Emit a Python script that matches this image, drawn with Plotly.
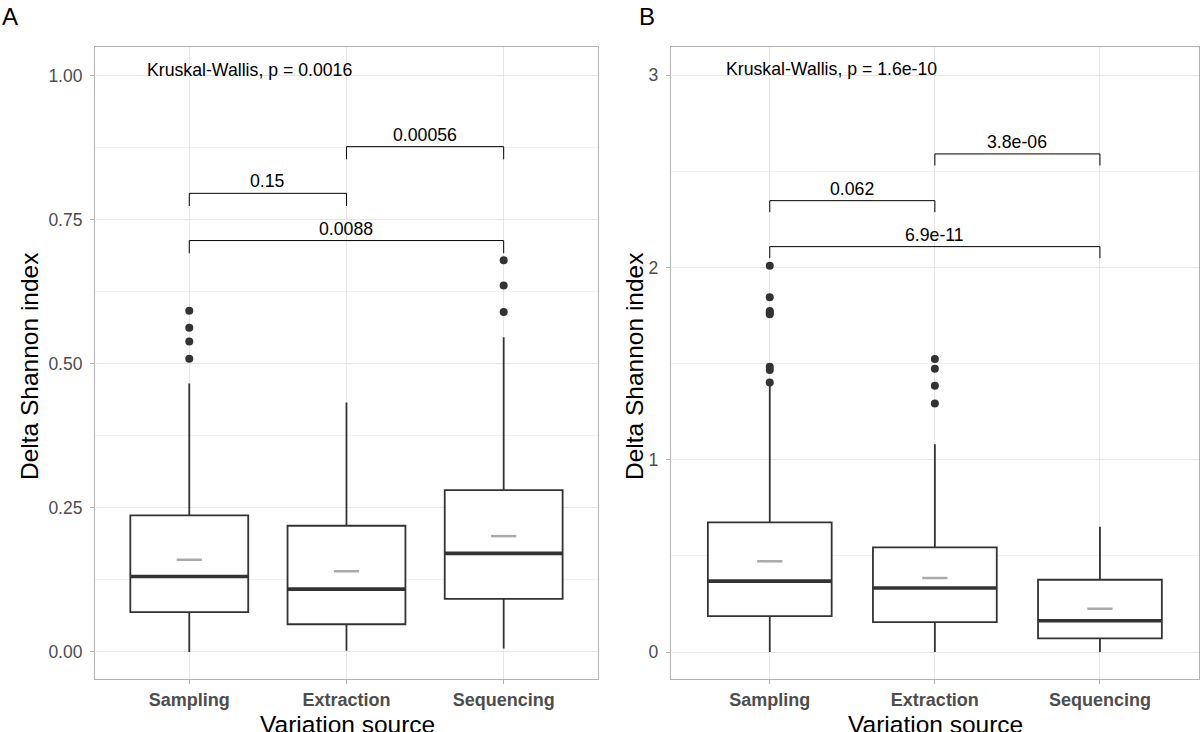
import plotly.graph_objects as go
from plotly.subplots import make_subplots

# categories
sources = ["Sampling", "Extraction", "Sequencing"]

# panel A box statistics
a_q1 = [0.069, 0.048, 0.092]
a_med = [0.131, 0.109, 0.171]
a_q3 = [0.237, 0.219, 0.281]
a_lo = [0.0, 0.002, 0.006]
a_hi = [0.466, 0.433, 0.546]
a_mean = [0.160, 0.140, 0.201]
a_out = [[0.509, 0.539, 0.5625, 0.592], [], [0.590, 0.636, 0.680]]

# panel B box statistics
b_q1 = [0.187, 0.156, 0.071]
b_med = [0.369, 0.333, 0.163]
b_q3 = [0.674, 0.544, 0.376]
b_lo = [0.0, 0.0, 0.0]
b_hi = [1.385, 1.080, 0.652]
b_mean = [0.472, 0.385, 0.225]
b_out = [[1.402, 1.466, 1.484, 1.756, 1.765, 1.773, 1.845, 2.009],
         [1.293, 1.385, 1.473, 1.524], []]

# pairwise comparisons: (group1, group2, bracket y, p label)
a_pairs = [(1, 2, 0.796, "0.15"), (2, 3, 0.877, "0.00056"), (1, 3, 0.714, "0.0088")]
b_pairs = [(1, 2, 2.347, "0.062"), (2, 3, 2.590, "3.8e-06"), (1, 3, 2.108, "6.9e-11")]
a_kw = "Kruskal-Wallis, p = 0.0016"
b_kw = "Kruskal-Wallis, p = 1.6e-10"

DARK = "#333333"
FONT = "Liberation Sans"
BW = 0.75

fig = make_subplots(rows=1, cols=2)

def add_panel(col, q1, med, q3, lo, hi, mean, outs, pairs, kw, kw_y, tick_drop):
    xr = "x" + ("" if col == 1 else "2")
    yr = "y" + ("" if col == 1 else "2")
    xs = [1, 2, 3]
    fig.add_trace(go.Box(x=xs, q1=q1, median=med, q3=q3, lowerfence=lo, upperfence=hi,
                         width=BW, whiskerwidth=0, fillcolor="white",
                         line=dict(color=DARK, width=1.8), boxpoints=False,
                         hoverinfo="skip"), row=1, col=col)
    # thick median lines
    for x, m in zip(xs, med):
        fig.add_trace(go.Scatter(x=[x - BW / 2, x + BW / 2], y=[m, m], mode="lines",
                                 line=dict(color=DARK, width=3.6)), row=1, col=col)
    # means
    fig.add_trace(go.Scatter(x=xs, y=mean, mode="markers",
                             marker=dict(symbol="line-ew", size=18,
                                         line=dict(color="#aaaaaa", width=2.5))),
                  row=1, col=col)
    # outliers
    ox, oy = [], []
    for x, vals in zip(xs, outs):
        ox += [x] * len(vals)
        oy += vals
    fig.add_trace(go.Scatter(x=ox, y=oy, mode="markers",
                             marker=dict(color=DARK, size=8)), row=1, col=col)
    # brackets
    for g1, g2, yb, lab in pairs:
        fig.add_trace(go.Scatter(x=[g1, g1, g2, g2], y=[yb - tick_drop, yb, yb, yb - tick_drop],
                                 mode="lines", line=dict(color="black", width=1)),
                      row=1, col=col)
        fig.add_annotation(x=(g1 + g2) / 2, y=yb, text=lab, showarrow=False,
                           yanchor="bottom", font=dict(size=17.7, color="black"),
                           xref=xr, yref=yr)
    fig.add_annotation(x=0.72, y=kw_y, text=kw, showarrow=False, xanchor="left",
                       font=dict(size=17.7, color="black"), xref=xr, yref=yr)

add_panel(1, a_q1, a_med, a_q3, a_lo, a_hi, a_mean, a_out, a_pairs, a_kw, 1.01, 0.022)
add_panel(2, b_q1, b_med, b_q3, b_lo, b_hi, b_mean, b_out, b_pairs, b_kw, 3.03, 0.06)

grid = "#e6e6e6"
axis_common = dict(showline=True, mirror=True, linecolor="#b3b3b3", linewidth=1,
                   ticks="outside", ticklen=4, tickcolor="#b3b3b3", gridcolor=grid,
                   zeroline=False)
for i, dom in zip([1, 2], [[0.079, 0.4975], [0.558, 0.9975]]):
    fig.update_xaxes(axis_common, domain=dom, range=[0.4, 3.6], tickvals=[1, 2, 3],
                     ticktext=["<b>%s</b>" % s for s in sources],
                     tickfont=dict(family=FONT, size=18, color="#4d4d4d"),
                     row=1, col=i)
fig.update_yaxes(axis_common, domain=[0.0724, 0.9358], range=[-0.047, 1.05],
                 tickvals=[0, 0.25, 0.5, 0.75, 1.0],
                 ticktext=["0.00", "0.25", "0.50", "0.75", "1.00"], ticklabelstandoff=4,
                 minor=dict(tickvals=[0.125, 0.375, 0.625, 0.875], showgrid=True,
                            gridcolor="#f2f2f2", ticks=""),
                 tickfont=dict(family=FONT, size=17.5, color="#4d4d4d"), row=1, col=1)
fig.update_yaxes(axis_common, domain=[0.0724, 0.9358], range=[-0.14, 3.146],
                 tickvals=[0, 1, 2, 3], ticklabelstandoff=4,
                 minor=dict(tickvals=[0.5, 1.5, 2.5], showgrid=True,
                            gridcolor="#f2f2f2", ticks=""),
                 tickfont=dict(family=FONT, size=17.5, color="#4d4d4d"), row=1, col=2)

# panel tags and axis titles
for tag, xp in [("A", 0.0), ("B", 0.530)]:
    fig.add_annotation(x=xp, y=1 - 17 / 732, xref="paper", yref="paper", text=tag,
                       showarrow=False, xanchor="left", yanchor="middle",
                       font=dict(family="Liberation Sans Narrow, Liberation Sans",
                                 size=24, color="black"))
for xp in [30 / 1202, 635 / 1202]:
    fig.add_annotation(x=xp, y=1 - 367 / 732, xref="paper", yref="paper",
                       text="Delta Shannon index", textangle=-90, showarrow=False,
                       xanchor="center", yanchor="middle",
                       font=dict(size=24.5, color="black"))
for xp in [347 / 1202, 935 / 1202]:
    fig.add_annotation(x=xp, y=1 - 709 / 732, xref="paper", yref="paper",
                       text="Variation source", showarrow=False,
                       xanchor="center", yanchor="top",
                       font=dict(size=24.5, color="black"))

fig.update_layout(width=1202, height=732, showlegend=False,
                  margin=dict(l=0, r=0, t=0, b=0),
                  plot_bgcolor="white", paper_bgcolor="white",
                  font=dict(family=FONT, color="black"))

fig.write_html("out.html", config={"displayModeBar": False},
               post_script="document.body.style.margin='0';")
